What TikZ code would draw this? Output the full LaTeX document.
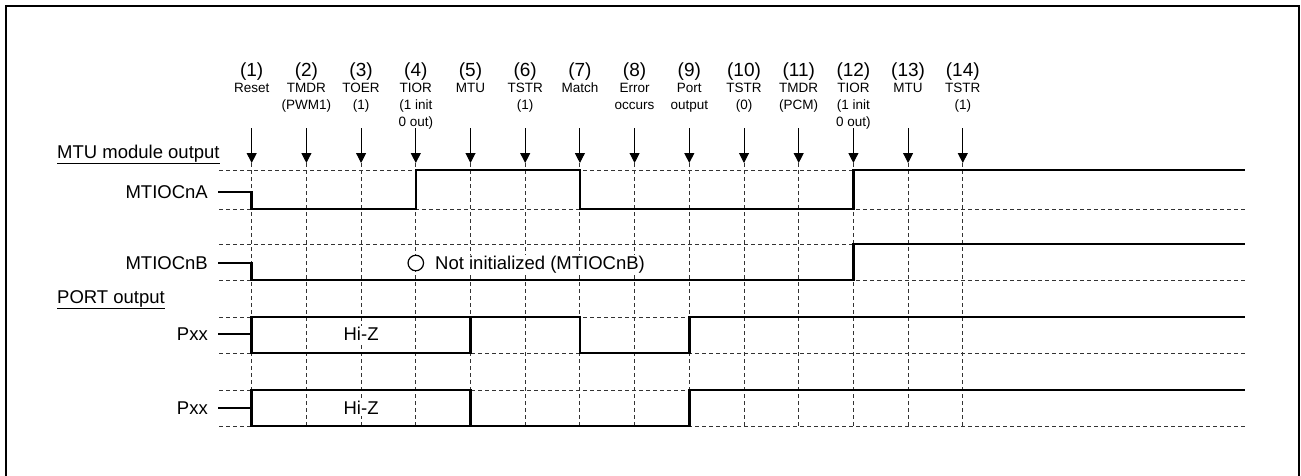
\documentclass[tikz,border=0pt]{standalone}
\usepackage{fontspec}
\setmainfont{Liberation Sans}
\usetikzlibrary{arrows.meta}
\begin{document}
\begin{tikzpicture}[x=1pt,y=-1pt,
  wave/.style={line width=2.6pt, line join=miter},
  gridline/.style={line width=1pt, dash pattern=on 4pt off 3pt, black!80},
  evarrow/.style={line width=1pt, -{Triangle[length=10pt,width=10pt]}},
  numlbl/.style={font=\fontsize{19}{21}\selectfont, inner sep=0pt, anchor=base},
  sublbl/.style={font=\fontsize{13.5}{17}\selectfont, inner sep=0pt, anchor=base},
  siglbl/.style={font=\fontsize{18.5}{20}\selectfont, inner sep=0pt, anchor=east},
  headlbl/.style={font=\fontsize{18.5}{20}\selectfont, inner sep=0pt, anchor=base west},
  txt/.style={font=\fontsize{18.5}{20}\selectfont, inner sep=1pt, fill=white}]
\useasboundingbox (0,0) rectangle (1301,475);
% frame
\draw[line width=2.5pt] (6,476) -- (6,6) -- (1299,6) -- (1299,476);
% event coordinates
\foreach \i in {1,...,14} {\coordinate (e\i) at ({251.7+(\i-1)*54.7},163);}
% grid
\foreach \y in {170,209,244,280,317,353,390,426} {\draw[gridline] (219,\y) -- (1245,\y);}
\foreach \i in {1,...,14} {\draw[gridline] (e\i) -- (e\i |- 0,426);}
% arrows and labels
\foreach \i/\t in {1/Reset, 2/{TMDR\\(PWM1)}, 3/{TOER\\(1)}, 4/{TIOR\\(1 init\\0 out)}, 5/MTU, 6/{TSTR\\(1)}, 7/Match, 8/{Error\\occurs}, 9/{Port\\output}, 10/{TSTR\\(0)}, 11/{TMDR\\(PCM)}, 12/{TIOR\\(1 init\\0 out)}, 13/MTU, 14/{TSTR\\(1)}} {
  \draw[evarrow] (e\i |- 0,128) -- (e\i);
  \node[numlbl] (n\i) at (e\i |- 0,76.5) {(\i)};
  \node[sublbl] (l\i) at (e\i |- 0,92) {\begin{tabular}[t]{@{}c@{}}\t\end{tabular}};
}
% headings
\node[headlbl] (hmtu) at (57,158) {\underline{MTU module output}};
\node[headlbl] (hport) at (57,303) {\underline{PORT output}};
% signal labels
\node[siglbl] (sA) at (208,192) {MTIOCnA};
\node[siglbl] (sB) at (208,263) {MTIOCnB};
\node[siglbl] (sP1) at (208,334) {Pxx};
\node[siglbl] (sP2) at (208,408) {Pxx};
% MTIOCnA
\draw[wave] (218,192) -- (e1 |- 0,192) -- (e1 |- 0,209) -- (e4 |- 0,209) -- (e4 |- 0,170) -- (e7 |- 0,170) -- (e7 |- 0,209) -- (e12 |- 0,209) -- (e12 |- 0,170) -- (1245,170);
% MTIOCnB
\draw[wave] (218,263) -- (e1 |- 0,263) -- (e1 |- 0,280) -- (e12 |- 0,280) -- (e12 |- 0,244) -- (1245,244);
\node[circle, draw, fill=white, line width=1.2pt, minimum size=15.5pt, inner sep=0pt] (ni) at (e4 |- 0,263) {};
\node[txt, anchor=base west] (nitxt) at (434,269.5) {Not initialized (MTIOCnB)};
% Pxx 1
\draw[wave] (218,334) -- (e1 |- 0,334);
\draw[wave] (e5 |- 0,317) -- (e5 |- 0,353) -- (e1 |- 0,353) -- (e1 |- 0,317) -- (e7 |- 0,317) -- (e7 |- 0,353) -- (e9 |- 0,353) -- (e9 |- 0,317) -- (1245,317);
\node[txt] (hz1) at (e3 |- 0,334) {Hi-Z};
% Pxx 2
\draw[wave] (218,408) -- (e1 |- 0,408);
\draw[wave] (e5 |- 0,426) -- (e5 |- 0,390) -- (e1 |- 0,390) -- (e1 |- 0,426) -- (e9 |- 0,426) -- (e9 |- 0,390) -- (1245,390);
\node[txt] (hz2) at (e3 |- 0,408) {Hi-Z};
\end{tikzpicture}
\end{document}
